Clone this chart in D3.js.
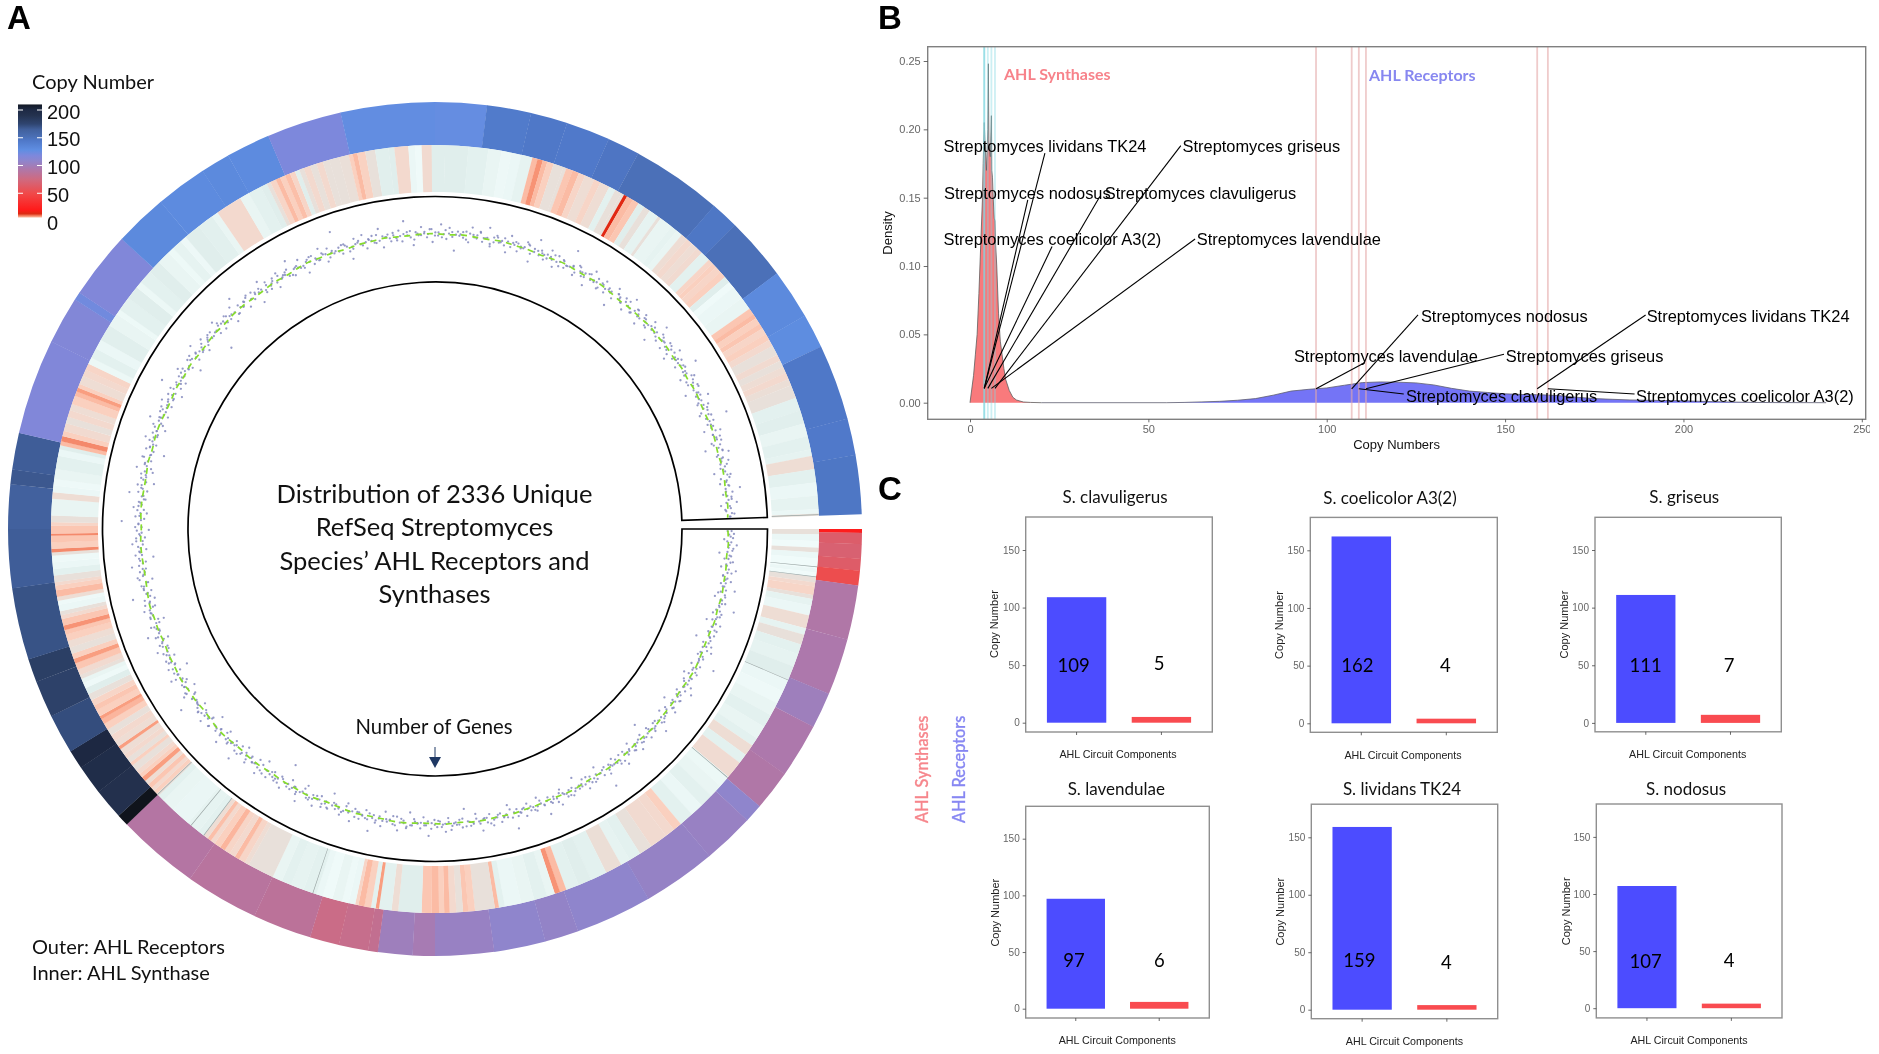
<!DOCTYPE html>
<html><head><meta charset="utf-8">
<script src="https://cdn.jsdelivr.net/npm/d3@7"></script>
<style>
html,body{margin:0;padding:0;background:#fff}
svg{display:block;filter:blur(.3px)}
.ar{font-family:"Liberation Sans",Arial,sans-serif}
.la{font-family:Lato,"Open Sans",sans-serif}
</style></head><body>
<svg id="c" width="1879" height="1054"></svg>
<script>
// ---- Panel A data: ring tracks, read clockwise in track degrees (90 = 3 o'clock)
const receptorStart=[90,90.5,92,94,95.6,97.6,105,112.7,117.6,125,130.5,133,140,150,160.4,165,172,180,183,187.7,189,193,197,205,215,226.2,227.8,232,236,238.6,244,249,252.2,262,270,276,278,283,296,302.5,303.6,312.8,320,327,331,337,347.2,360,367,373,378,384,388.4,400.8,404.6,413.2,420,424.7,435,440];
const receptorCopies=[22,65,68,64,52,92,94,101,94,92,108,104,105,108,106,108,104,97,101,82,80,78,86,88,90,212,192,196,201,172,178,180,170,166,164,168,166,116,115,122,116,131,130,131,130,118,127,126,143,145,144,147,151,146,151,131,129,145,144,146];
const synthStart=[90,90.8,91.8,92.8,93.5,94.4,95.9,96.5,97.2,98,98.6,99.9,100.5,101.5,103,105,106,107.5,109,111,113.1,115,117,119,121,123,124.3,126,127.5,130.2,132,134,136,138,140.2,141.5,143,145.7,147.7,149.5,151,153.5,156,158,160,161,161.8,163,165,167,169.5,170.4,171,174,175,175.8,176.8,177.8,178.6,179.4,180.5,182,185.5,186.5,188.4,188.9,189.6,190.6,191.5,192,193,194,195.5,197,198,200,202,203.5,205,209,209.7,210.7,211.4,212.3,213.2,214,215,215.7,216.3,217,218,220,223,225,226,226.4,227,227.6,228.3,229,229.7,230.3,231,232,232.5,233.3,234,235,235.5,236.5,237.5,238.5,239.5,240.3,240.8,241.8,242.6,243.5,244.5,245.5,246.3,247,247.6,248.5,249.5,250.2,251,252,253,254,254.7,255.4,256.4,257,257.6,258.6,259.2,259.8,260.8,261.5,262,263,264,265,266,266.5,267,268,269,269.3,270.5,271,272,274.5,275.5,276.5,277.5,279,281,282,282.6,283.2,284,284.8,286,287,288,289,290.3,291,291.6,292.2,293.5,294.5,295.5,296.5,298,299.5,302,304,304.8,307,309,310,312,314,316,317,318.5,319.5,322,324.5,325.5,329.5,331,333,334,334.6,335.5,336.2,337,337.8,338.6,339.3,340,341,342,343,344,345.5,347,347.6,348.3,349.5,351,353,353.9,356,357,358,359.5,361.5,365,368,370,371.5,373,374.7,375.5,376.3,377,378,379.5,380,381,382,383,384.5,385.5,387,388,389,389.5,390,391,392,393,394,395.5,396,398,399,400,401,402,403,404,405.5,406.3,407,408,409,410,411,413,415,416,416.7,417.7,418.5,419.5,420.5,421.5,423,424,425,426,427,428,430,432,434,436,438,439,441,443,445,447,447.7];
const synthCopies=[4,1,0,4,1,0,1,0,4,5,5.5,4,2,1,4.5,2,4,2.5,2,3,1,.5,1.5,2.5,1.5,2.5,4.5,2.5,4.7,.8,1.5,2.5,1,2.5,6,5,4.8,4,2.5,2,4.3,2.5,3,2.5,7,8.5,1.5,2.5,1.5,1,2.5,7,4,6,6.5,4,5,7,6,7,6.5,3,4.5,2.5,8,2.5,6,7,5.5,1,.5,1.5,.2,1,2.5,2,2.5,1.5,4,4.5,5.5,7,5,5.5,7.2,6,5,6.8,4.5,2.5,2,1.2,1.5,2.5,4,6,5,6.5,4.5,8,6,5,4,6,4,5,4.5,8,4.5,5,4,6,7.2,8,6,6.5,5.5,4,3,.5,1.5,4,4.8,6.5,8,6,4,4.5,6,6.5,8.5,6.5,5,4,1,.5,4.5,7,6,5,4,2.5,1,.5,4,9,6,6.5,9,6.5,5.5,4,1.5,4.5,1,.5,1.5,2.5,1,3,7,9,6,4.8,4,5,4.5,6,7,8,6,4.5,5,5.5,.8,2.5,1,2.8,1.5,.6,2.5,3,.8,2.5,3,1.5,.6,2,.7,3,2.7,1.5,5,1.5,2.5,3,4,5.5,7,6,6.8,5.5,3,4,5,4,5,4,4,4.2,6,7,5.8,4,2.8,3,5,1,.2,4.8,3,3,2.5,1.5,.7,1,2,7,8.5,7,6,4,4,6.5,7,5.5,4.5,5.5,4.5,2.5,4,4,14,7,6.5,3,4,2,4,1.5,2,1.5,4.5,5,4.5,4.8,2.5,5.5,6,5.5,6,3,.3,1,1.5,6.5,7,6,6.5,5.5,6,5,4,4.8,4,4.5,5,4.3,4,2.5,2.8,1.5,2.5,2,4.5,2.5,1,2,1,4];
const blankStripes=[95.6,97.1,113.1,130.3,198.5,217,219.4,226.2,447.8];
// Number of genes per species: offset from the track mean, sampled along the ring
const geneOffset=[-3,5,1,-7,2,9,-1,4,-12,3,0,6,-2,-8,11,1,-4,2,7,-5,0,14,-3,3,-9,1,6,-1,19,2,-6,4,0,-11,8,-2,3,-4,5,1,-16,2,7,-3,10,-1,-5,4,0,22,-7,2,-2,6,-10,3,1,-4,8,-1,13,-6,2,0,5,-3,-13,4,9,-2,1,-8,3,6,-1,15,-4,2,0,-6,7,-19,1,4,-3,10,-2,5,-9,0,3,-1,12,-5,6,2,-7,1,-3,8,24,-2,0,-11,4,6,-4,1,9,-6,2,-1,-14,3,7,-2,5,0,-8,11,1,-3,4,-5,16,2,-1,-10,6,0,3,-7,8,-2,1,-4,20,5,-12,-1,2,7,-3,0,9,-6,4,-2,13,1,-9,3,5,-1,-17,6,-4,2,0,8,-7,10,1,-3,4,-5,-1,15,2,-8,6,0,-2,3,-13,7,1,-4,11,5,-6,-1,2,-10,9,0,3,-3,18,4,-7,1,6,-2,-5,12,0,-9,2,8,-1,3,-4,-15,5,1,7,-6,0,10,-3,2,4,-11,-1,14,6,-2,1,-8,3,-26,9,-5,0,5,2,-3,7,-1,-12,4,11,-7,1,2,-4,8,0,-10,3,6,17,-2,-6,1,5,-1,-9,13,2,-3,4,0,-14,7,-5,1,10,-2,3,6,-8,0,-1,21,2,-4,9,5,-11,1,3,-6,-2,12,0,4,-16,8,-3,1,6,-7,2,-1,11,-4,5,0,-9,3,15,-2,1,7,-5,-12,4,0,2,9,-3,6,-1,-8,19,1,-6,3,5,-2,-10,8,0,4,-4,13,-1,2,-15,7,1,-7,3,10,-3,5,0,-2,-11,6,2,23,-5,1,-8,4,9,-1,3,-3,0,16,-6,2,7,-13,1,-2,5,-9,12,0,3,-4,8,-1,-18,6,2,-5,1,11,-3,4,0,-10,7,-2,14,1,-7,5,3,-1,-6,9,2,-4,0,-12,6,20,1,-3,-8,4,-2,10,5,-1,0,-15,3,7,-6,2,13,-4,1,-9,8,-1,3,-2,5,-28,0,11,6,-7,2,-3,4,1,-11,9,-5,17,0,-2,3,-8,7,-1,6,1,-14,4,12,-3,2,-6,0,5,-10,8,-2,1,3,-4,15,-7,2,0,9,-1,-12,4,6,-5,1,-3,11,2,-9,7,0,-2,25,3,-6,5,1,-16,-4,8,2,-1,10,-8,3,0,-3,6,13,-11,1,4,-5,2,-2,7,-7,18,0,5,-13,3,-1,9,1,-4,6,-10,2,-2,12,0,-6,8,3,-20,4,1,-3,5,-8,11,-1,2,7,-5,0,14,-9,3,6,-2,1,-4,-12,10,2,4,-7,0,-1,8,5,-15,3,16,-3,1,-6,2,9,-2,-10,6,0,4,-5,-1,22,3,-8,7,1,-4,2,-13,5,11,-2,0,-7,3,8,-6,1,-1,-18,10,4,2,-3,6,-9,0,13,-5,1,5,-2,-11,7,3,-4,0,9,-1,-16,2,15,-6,4,1,-8,6,-3,2,-12,10,0,-1,5,-7,3,19,-2,1,-10,8,4,-5,0,6,-14,2,-3,12,1,-6,7,-1,3,-9,5,24,0,-4,2,-11,9,-2,6,1,-7,3,-17,4,11,-5,0,8,-3,2,-1,-13,7,5,1,-8,3,16,-2,-6,4,0,10,-10,2,-4,6,1];
const geneCore=[2,-1,4,-3,0,5,-2,1,-5,3,-1,2,6,-4,0,1,-2,3,-6,4,-1,2,0,-3,5,1,-4,2,-1,6,-2,0,3,-5,1,4,-3,2,-1,0,5,-2,3,-4,1,-6,2,0,4,-1,-3,6,1,-2,3,-5,0,2,-1,4,-4,1,5,-3,0,2,-6,3,-1,1,4,-2,0,-5,6,2,-3,1,-1,3,-4,5,0,-2,1,4,-6,2,-1,3,0,-3,5,1,-2,-4,6,0,2,-1,3,-5,1,4,-2,0,-3,2,5,-1,-6,3,1,-4,0,2,6,-2,-1,4,-3,1,0,5,-5,2,-1,3,-2,0,4,-4,1,6,-3,2,-1,0,-5,3,5,-2,1,-6,4,0,-1,2,-3,6,1,-4,3,0,-2,5,-1,2,-5,4,1,-3,0,6,-2,3,-1,-4,2,5,0,-6,1,3,-2,4,-1,0,-3,5,2,-5,1,-1,6,-4,3,0,2,-2,4,-3,1,-6,5,0,-1,3,2,-5,4,-2,1,0,6,-3,-1,2,-4,5,3,0,-2,1,-6,4,-1,2,-3,0,6,1,-5,3,-2,4,0,-1,5,-4,2,1,-3,6,0,-2,3,-1,-5,4,1,2,-6,0,5,-3,-1,3,2,-4,6,1,-2,0,4,-5,3,-1,2,0,-3,5,-6,1,4,-2,2,-1,6,0,-4,3,1,-5,-2,5,0,2,-3,4,-1,1,-6,3,0,6,-2,-4,2,-1,5,1,-3,0,4,-5,2,3,-1,-2,6,0,1,-4,5,-3,2,-6,3,-1,0,4,1,-2,-5,6,2,-1,3,0,-3,4,-4,1,5,-2,0,-6,3,2,-1,6,-3,1,0,-5,4,-2,2,5,-1,-4,3,0,1,-6,6,-2,2,-3,4,-1,0,5,-5,1,3,-2,-4,2,0,6,-1,-3,4,1,-5,2,0,-2,5,3,-6,-1,1,4,-3,0,2,6,-4,-2,3,1,-1,5,-5,0,2,4,-3,-6,1,-1,3,0,6,-2,2,-4,5,1,-3,0,-1,4,-5,3,2,-2,6,0,1,-6,-3,4,-1,5,2,-4,0,3,-2,1,6,-5,-1,2,4,0,-3,1,5,-2,-6,3,-1,0,2,-4,6,1,-3,4,-2,0,5,-5,2,-1,3,1,-6,4,0,-3,2,6,-1,-4,5,1,-2,3,0,-5,2,4,-1,-3,6,0,1,-2,5,-6,3,-4,2,-1,0,4,1,-3,5,-5,2,6,-2,0,3,-1,-4,1,4,-6,2,-3,5,0,-1,3,-2,1,6,-5,0,4,-3,2,-1,5,-4,1,3,-6,0,2,-2,6,-1,4,-3,1,-5,3,0];
const trendOffset=[-2,-1,-2,-1,-1,0,-1,0,-1,-1,0,1,0,-1,0,0,1,0,-1,0,1,1,0,0,1,0,-1,0,0,1,0,1,1,0,1,0,0,1,1,0,0,1,0,-1,0,1,0,0,-1,0,0,-1,0,1,0,-1,0,0,1,0,0,-1,0,0,1,0,-1,-1,0,0,-1,0,0,-1,-1,0,-1,0,0,-1,-1,0,-1,0,-1,-1,0,-1,0,0,-1,-1,0,-1,0,1,0,0,-1,0,0,1,0,0,1,1,0,1,0,0,1,0,0,-1,0,1,0,0,1,0,-1,0,0,1,0,0,-1,0,-1,0,-1,-1,0,-1,-2,-1,-1,-2,-1,-2];
const legendTicks=[200,150,100,50,0];
// colour scale stops
const copyStops=[0,2,3,4,5,6,7,8,10,13,20,50,75,95,108,118,128,145,152,165,175,190,200,212];
const copyColors=["#f0fbfa","#e6f3f1","#e0eeec","#e8e0da","#f3d9ce","#fad0bf","#fbbba4","#f99e80","#ef7355","#dc2a12","#ff1a1a","#f04a4a","#cf6a80","#ab79ae","#8f85cc","#7d88dc","#5f8ee2","#4f78c8","#4a6fb5","#41609c","#2f4570","#24324f","#1e2a45","#10141c"];
// ---- Panel B data
const speciesNames=["Streptomyces lividans TK24","Streptomyces griseus","Streptomyces nodosus","Streptomyces clavuligerus","Streptomyces coelicolor A3(2)","Streptomyces lavendulae"];
const synthCopyB=[4,7,4,5,4,6];
const recepCopyB=[159,111,107,109,162,97];
const synthDensX=[0,.5,1,1.5,2,2.5,3,3.5,3.7,4,4.2,4.6,5,5.15,5.3,5.7,6,6.1,6.3,6.5,6.8,7,7.2,7.5,8,8.5,9,9.5,10,11,12,13,14,15,17,20];
const synthDensY=[0,.01,.02,.035,.05,.08,.115,.15,.175,.205,.19,.17,.2,.248,.19,.18,.21,.17,.165,.15,.135,.133,.115,.1,.065,.045,.035,.025,.017,.009,.004,.002,.0012,.0005,.0002,0];
const recepDensX=[20,55,60,65,70,75,80,85,90,95,100,105,110,115,120,125,130,135,140,145,150,155,160,165,170,175,180,185,190,195,200,205,210,215,220,225,240];
const recepDensY=[0,0,.0002,.0006,.001,.0018,.003,.0055,.0085,.0098,.0108,.0128,.0147,.0152,.015,.0145,.013,.0105,.0085,.0075,.0065,.006,.0058,.0052,.004,.003,.0025,.002,.0018,.0016,.0014,.001,.0007,.0004,.0002,.0001,0];
const xTicksB=[0,50,100,150,200,250];
const yTicksB=[0,.05,.1,.15,.2,.25];
// label anchors, in data units of panel B, same species order as speciesNames
const synthTextX=[-7.4,59.6,-7.3,37.8,-7.4,63.6], synthTextY=[.1881,.1881,.1537,.1537,.1198,.1198];
const synthEndX=[21,59.1,16.2,36.4,23,63.1], synthEndY=[.1826,.1881,.1484,.1508,.1142,.1198];
const recepTextX=[189.7,150.2,126.4,122.2,186.7,90.8], recepTextY=[.0637,.0344,.0637,.0051,.0051,.0344];
const recepEndX=[189.4,149.7,125.6,121.6,186.3,110.6], recepEndY=[.0642,.0354,.0642,.0064,.0064,.0293];
// ---- Panel C data
const barTitles=["S. clavuligerus","S. coelicolor A3(2)","S. griseus","S. lavendulae","S. lividans TK24","S. nodosus"];
const barReceptors=[109,162,111,97,159,107];
const barSynthases=[5,4,7,6,4,4];
const barGroups=["Receptors","Synthases"];
const barYTicks=[0,50,100,150];

// ---- drawing
const svg=d3.select("#c");
const copyColor=d3.scaleLinear().domain(copyStops).range(copyColors).interpolate(d3.interpolateRgb);

// Panel A
const cx=435,cy=529,trackEnd=448;
const A=svg.append("g").attr("transform",`translate(${cx},${cy})`);
const trackAngle=d3.scaleLinear().domain([0,360]).range([0,2*Math.PI]);
function ring(starts,values,r0,r1,parent){
  const arc=d3.arc().innerRadius(r0).outerRadius(r1);
  parent.selectAll(null).data(values).join("path")
    .attr("d",(v,i)=>arc({startAngle:trackAngle(starts[i]),endAngle:trackAngle(i+1<starts.length?starts[i+1]:trackEnd)+.0006}))
    .attr("fill",v=>copyColor(v));
}
const ringG=A.append("g").style("filter","blur(0.5px)");
ring(receptorStart,receptorCopies,384,427,ringG);
ring(synthStart,synthCopies,337,384,ringG);
const blankArc=d3.arc().innerRadius(337).outerRadius(384);
ringG.selectAll(null).data(blankStripes).join("path")
  .attr("d",d=>blankArc({startAngle:trackAngle(d),endAngle:trackAngle(d+.1)})).attr("fill","#9aa5a4");
A.append("path").attr("d",d3.arc().innerRadius(247).outerRadius(332.5).startAngle(trackAngle(90)).endAngle(trackAngle(448))())
  .attr("fill","none").attr("stroke","#000").attr("stroke-width",1.7);
const geneR=d3.scaleLinear().domain([-40,40]).range([263,327]);
function geneDots(values){
  const a=d3.scaleLinear().domain([0,values.length-1]).range([trackAngle(90.4),trackAngle(447.6)]);
  A.selectAll(null).data(values).join("circle")
    .attr("cx",(v,i)=>geneR(v)*Math.sin(a(i)))
    .attr("cy",(v,i)=>-geneR(v)*Math.cos(a(i)))
    .attr("r",1.15).attr("fill","#8388bd").attr("opacity",.85);
}
geneDots(geneOffset);
geneDots(geneCore);
const trendA=d3.scaleLinear().domain([0,trendOffset.length-1]).range([trackAngle(90.3),trackAngle(447.8)]);
A.append("path").attr("d",d3.lineRadial().angle((v,i)=>trendA(i)).radius(v=>geneR(v)-.5).curve(d3.curveCatmullRom)(trendOffset))
  .attr("fill","none").attr("stroke","#86dc2c").attr("stroke-width",1.7).attr("stroke-dasharray","6 5.4");

const titleLines=["Distribution of 2336 Unique","RefSeq Streptomyces","Species’ AHL Receptors and","Synthases"];
const titleY=[492.5,526,559.6,593];
svg.selectAll("text.ti").data(titleLines).join("text").attr("class","ti la")
  .attr("x",434.5).attr("y",(d,i)=>titleY[i]).attr("text-anchor","middle").attr("dominant-baseline","central")
  .attr("font-size",25.5).attr("fill","#111").text(d=>d);
svg.append("text").attr("class","la").attr("x",434).attr("y",726).attr("text-anchor","middle").attr("dominant-baseline","central").attr("font-size",20.3).attr("fill","#111").text("Number of Genes");
svg.append("line").attr("x1",435).attr("x2",435).attr("y1",747).attr("y2",760).attr("stroke","#1f3864").attr("stroke-width",1);
svg.append("path").attr("d","M429,757L441,757L435,768Z").attr("fill","#1f3864");
svg.append("text").attr("class","la").attr("x",32).attr("y",945.5).attr("dominant-baseline","central").attr("font-size",20).attr("fill","#111").text("Outer: AHL Receptors");
svg.append("text").attr("class","la").attr("x",32).attr("y",972).attr("dominant-baseline","central").attr("font-size",20).attr("fill","#111").text("Inner: AHL Synthase");

// legend
svg.append("text").attr("class","la").attr("x",32).attr("y",81).attr("dominant-baseline","central").attr("font-size",20).attr("fill","#111").text("Copy Number");
const legY=d3.scaleLinear().domain([0,200]).range([221,110]);
const defs=svg.append("defs");
const grad=defs.append("linearGradient").attr("id","lg").attr("x1",0).attr("x2",0).attr("y1",1).attr("y2",0);
const legTop=210,legBot=6;
grad.selectAll("stop").data(copyStops.filter(v=>v>=legBot&&v<=legTop).concat([legTop])).join("stop")
  .attr("offset",v=>(v-legBot)/(legTop-legBot)).attr("stop-color",v=>copyColor(v));
svg.append("rect").attr("x",18).attr("width",24).attr("y",legY(legTop)).attr("height",legY(legBot)-legY(legTop)).attr("fill","url(#lg)");
legendTicks.forEach(v=>{
  if(v>0){[[18,23],[37,42]].forEach(s=>svg.append("line").attr("x1",s[0]).attr("x2",s[1]).attr("y1",legY(v)).attr("y2",legY(v)).attr("stroke","#fff").attr("stroke-width",1));}
  svg.append("text").attr("class","ar").attr("x",47).attr("y",legY(v)+1.6).attr("dominant-baseline","central").attr("font-size",20).attr("fill","#111").text(v);
});

// panel letters
[["A",7,29],["B",878,29],["C",878,500]].forEach(l=>svg.append("text").attr("class","ar").attr("x",l[1]).attr("y",l[2]).attr("font-size",33).attr("font-weight","bold").attr("fill","#000").text(l[0]));

// Panel B
const xB=d3.scaleLinear().domain([0,250]).range([970,1861.8]);
const yB=d3.scaleLinear().domain([0,.25]).range([402.7,61]);
const PB={l:927.7,r:1865.7,t:46.7,b:419.3};
const B=svg.append("g");
const areaOf=(xs,ys)=>d3.area().x((d,i)=>xB(xs[i])).y0(yB(0)).y1((d,i)=>yB(ys[i]))(xs);
const lineOf=(xs,ys)=>d3.line().x((d,i)=>xB(xs[i])).y((d,i)=>yB(ys[i]))(xs);
B.append("path").attr("d",areaOf(synthDensX,synthDensY)).attr("fill","#f97a7c");
B.append("path").attr("d",lineOf(synthDensX,synthDensY)).attr("fill","none").attr("stroke","#5e5e5e").attr("stroke-width",.8);
B.append("path").attr("d",areaOf(recepDensX,recepDensY)).attr("fill","#7474f6");
B.append("path").attr("d",lineOf(recepDensX,recepDensY)).attr("fill","none").attr("stroke","#5e5e6e").attr("stroke-width",.8);
B.selectAll("line.s").data(synthCopyB).join("line").attr("class","s").attr("x1",xB).attr("x2",xB).attr("y1",PB.t).attr("y2",PB.b).attr("stroke","#7fd8e0").attr("stroke-opacity",.4).attr("stroke-width",1.8);
B.selectAll("line.r").data(recepCopyB).join("line").attr("class","r").attr("x1",xB).attr("x2",xB).attr("y1",PB.t).attr("y2",PB.b).attr("stroke","#e5a9a9").attr("stroke-opacity",.6).attr("stroke-width",1.8);
B.append("rect").attr("x",PB.l).attr("y",PB.t).attr("width",PB.r-PB.l).attr("height",PB.b-PB.t).attr("fill","none").attr("stroke","#808080").attr("stroke-width",1.4);
const ax=B.append("g").attr("transform",`translate(0,${PB.b})`).call(d3.axisBottom(xB).tickValues(xTicksB).tickSize(3).tickPadding(3).tickFormat(d3.format("d")));
const ay=B.append("g").attr("transform",`translate(${PB.l},0)`).call(d3.axisLeft(yB).tickValues(yTicksB).tickSize(4).tickPadding(3).tickFormat(d3.format(".2f")));
[ax,ay].forEach(g=>{g.select(".domain").remove();g.selectAll("line").attr("stroke","#444").attr("stroke-width",.8);g.selectAll("text").attr("class","ar").attr("font-family",null).attr("font-size",11).attr("fill","#666");});
ax.attr("clip-path","url(#clipBax)");
defs.append("clipPath").attr("id","clipBax").append("rect").attr("x",880).attr("y",-5).attr("width",990).attr("height",40);
B.append("text").attr("class","ar").attr("transform","translate(887,233) rotate(-90)").attr("text-anchor","middle").attr("dominant-baseline","central").attr("font-size",13).attr("fill","#111").text("Density");
B.append("text").attr("class","ar").attr("x",1396.6).attr("y",444.6).attr("text-anchor","middle").attr("dominant-baseline","central").attr("font-size",13).attr("fill","#111").text("Copy Numbers");
B.append("text").attr("class","la").attr("x",1004).attr("y",73).attr("dominant-baseline","central").attr("font-size",16).attr("font-weight",700).attr("fill","#f7828a").text("AHL Synthases");
B.append("text").attr("class","la").attr("x",1369).attr("y",74.5).attr("dominant-baseline","central").attr("font-size",16).attr("font-weight",700).attr("fill","#8787f0").text("AHL Receptors");
function leaders(copy,startY,endX,endY,textX,textY){
  B.selectAll(null).data(copy).join("line")
    .attr("x1",v=>xB(v)).attr("y1",yB(startY)).attr("x2",(v,i)=>xB(endX[i])).attr("y2",(v,i)=>yB(endY[i]))
    .attr("stroke","#000").attr("stroke-width",1.1);
  B.selectAll(null).data(speciesNames).join("text").attr("class","ar")
    .attr("x",(d,i)=>xB(textX[i])).attr("y",(d,i)=>yB(textY[i])).attr("dominant-baseline","central")
    .attr("font-size",16.4).attr("fill","#000").text(d=>d);
}
leaders(synthCopyB,.0105,synthEndX,synthEndY,synthTextX,synthTextY);
leaders(recepCopyB,.0102,recepEndX,recepEndY,recepTextX,recepTextY);

// Panel C
const frames=[[1025.7,1212.3,517,732,722.7,550],[1310.3,1497.3,517.4,732.3,723.3,550.3],[1595,1781.3,517.3,731.8,722.9,550],[1025.7,1209.3,806.3,1018,1008.7,838.7],[1311.3,1497.7,804.2,1018.7,1009.7,837.3],[1596.3,1782,804,1017.9,1008.2,836.9]];
const titlePos=[[1115,496.7],[1390,497],[1684.3,496.8],[1116.3,788.7],[1402,788.5],[1686,788.4]];
const valPos=[[1073.7,665,1159,663],[1357.3,665,1445.3,664.8],[1645.7,664.8,1729,664.8],[1074,960,1159.3,960],[1359.3,960,1446.3,961.6],[1645.7,960.5,1729,960]];
const xTitlePos=[[1118,754],[1403,754.5],[1687.7,754],[1117.3,1040],[1404.4,1040.7],[1689,1039.5]];
const yTitlePos=[[994,624],[1279.3,625],[1563.7,624.6],[995,912.7],[1280,911.7],[1565.7,911.3]];
barTitles.forEach((name,k)=>{
  const [l,r,t,b,y0,y150]=frames[k];
  const g=svg.append("g");
  const x=d3.scaleBand().domain(barGroups).range([l,r]).paddingInner(.3).paddingOuter(.25);
  const y=d3.scaleLinear().domain([0,150]).range([y0,y150]);
  const vals=[barReceptors[k],barSynthases[k]];
  g.selectAll("rect.b").data(vals).join("rect").attr("class","b")
    .attr("x",(v,i)=>x(barGroups[i])).attr("width",x.bandwidth())
    .attr("y",v=>y(v)).attr("height",v=>y(0)-y(v))
    .attr("fill",(v,i)=>i?"#f94b50":"#4c4cff");
  g.append("rect").attr("x",l).attr("y",t).attr("width",r-l).attr("height",b-t).attr("fill","none").attr("stroke","#8f8f8f").attr("stroke-width",1.4);
  const ya=g.append("g").attr("transform",`translate(${l},0)`).call(d3.axisLeft(y).tickValues(barYTicks).tickSize(3).tickPadding(3));
  const xa=g.append("g").attr("transform",`translate(0,${b})`).call(d3.axisBottom(x).tickSize(3).tickFormat(""));
  [ya,xa].forEach(a=>{a.select(".domain").remove();a.selectAll("line").attr("stroke","#444").attr("stroke-width",.8);a.selectAll("text").attr("class","ar").attr("font-family",null).attr("font-size",10).attr("fill","#666");});
  g.append("text").attr("class","la").attr("x",titlePos[k][0]).attr("y",titlePos[k][1]).attr("text-anchor","middle").attr("dominant-baseline","central").attr("font-size",17).attr("fill","#111").text(name);
  const vp=valPos[k];
  g.append("text").attr("class","la").attr("x",vp[0]).attr("y",vp[1]).attr("text-anchor","middle").attr("dominant-baseline","central").attr("font-size",18.5).attr("fill","#000").text(vals[0]);
  g.append("text").attr("class","la").attr("x",vp[2]).attr("y",vp[3]).attr("text-anchor","middle").attr("dominant-baseline","central").attr("font-size",18.5).attr("fill","#000").text(vals[1]);
  g.append("text").attr("class","ar").attr("x",xTitlePos[k][0]).attr("y",xTitlePos[k][1]).attr("text-anchor","middle").attr("dominant-baseline","central").attr("font-size",10.7).attr("fill","#222").text("AHL Circuit Components");
  g.append("text").attr("class","ar").attr("transform",`translate(${yTitlePos[k][0]},${yTitlePos[k][1]}) rotate(-90)`).attr("text-anchor","middle").attr("dominant-baseline","central").attr("font-size",11).attr("fill","#222").text("Copy Number");
});
svg.append("text").attr("class","la").attr("transform","translate(921,823) rotate(-90)").attr("dominant-baseline","central").attr("font-size",16.3).attr("font-weight",500).attr("stroke","#f6868c").attr("stroke-width",.3).attr("fill","#f6868c").text("AHL Synthases");
svg.append("text").attr("class","la").attr("transform","translate(958.5,823) rotate(-90)").attr("dominant-baseline","central").attr("font-size",16.3).attr("font-weight",500).attr("stroke","#8787f2").attr("stroke-width",.3).attr("fill","#8787f2").text("AHL Receptors");
</script></body></html>
